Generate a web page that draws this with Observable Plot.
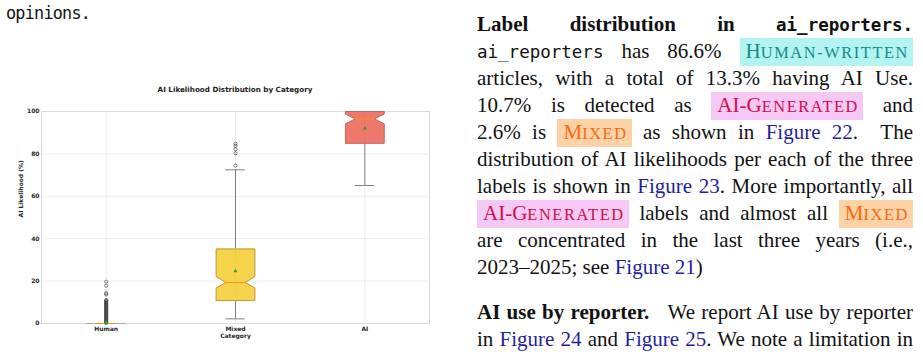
<!DOCTYPE html>
<html><head><meta charset="utf-8">
<script src="https://cdn.jsdelivr.net/npm/d3@7"></script>
<script src="https://cdn.jsdelivr.net/npm/@observablehq/plot@0.6"></script>
<style>
html,body{margin:0;padding:0;background:#fff;width:923px;height:364px;overflow:hidden;position:relative}
#left{position:absolute;left:6px;top:4px;font-family:"DejaVu Sans Mono";font-size:16.8px;line-height:19px;color:#111;letter-spacing:-0.75px}
#title{position:absolute;left:0;width:470px;top:84.5px;text-align:center;font:bold 7.2px "DejaVu Sans";color:#222}
#chart{position:absolute;left:0;top:100px}
#col{position:absolute;left:477px;top:11px;width:436px;font-family:"Liberation Serif";font-size:21px;color:#111}
.l{height:27px;line-height:27px;white-space:nowrap;text-align:justify;text-align-last:justify}
.l.last{text-align-last:left}
.p2{margin-top:17.7px}
.tt{font-family:"DejaVu Sans Mono";font-size:17.5px}
.hl{display:inline-block;padding:0 4px 0 6px;line-height:26px}
.sc{font-size:0.78em;letter-spacing:1.6px}
.hw{background:#b3f4f3;color:#178b8b}
.ag{background:#f6c8f4;color:#cc0f4e}
.mx{background:#fdd2a6;color:#f76b12}
a{color:#1f1f9c;text-decoration:none}
</style>
</head><body>
<div id="left">opinions.</div>
<div id="title">AI Likelihood Distribution by Category</div>
<div id="chart"></div>
<div id="col">
<div class="l"><b>Label distribution in <span class="tt">ai_reporters.</span></b></div>
<div class="l"><span class="tt">ai_reporters</span> has 86.6% <span class="hl hw">H<span class="sc">UMAN-WRITTEN</span></span></div>
<div class="l">articles, with a total of 13.3% having AI Use.</div>
<div class="l">10.7% is detected as <span class="hl ag">AI-G<span class="sc">ENERATED</span></span> and</div>
<div class="l">2.6% is <span class="hl mx">M<span class="sc">IXED</span></span> as shown in <a>Figure 22</a>.&nbsp; The</div>
<div class="l">distribution of AI likelihoods per each of the three</div>
<div class="l">labels is shown in <a>Figure 23</a>. More importantly, all</div>
<div class="l"><span class="hl ag">AI-G<span class="sc">ENERATED</span></span> labels and almost all <span class="hl mx">M<span class="sc">IXED</span></span></div>
<div class="l">are concentrated in the last three years (i.e.,</div>
<div class="l last">2023–2025; see <a>Figure 21</a>)</div>
<div class="l p2"><b>AI use by reporter.</b>&nbsp;&nbsp; We report AI use by reporter</div>
<div class="l">in <a>Figure 24</a> and <a>Figure 25</a>. We note a limitation in</div>
</div>
<script>
const categories = ["Human", "Mixed", "AI"];
const q1 = [0, 10.8, 85.0];
const q3 = [0, 35.2, 100];
const medians = [0, 19.3, 96.5];
const notchLow = [0, 16.8, 94.2];
const notchHigh = [0, 22.2, 98.8];
const whiskerLow = [0, 2.2, 65.1];
const whiskerHigh = [0, 72.5, 100];
const means = [0.6, 24.7, 92.1];
const boxFill = ["#2ECC71", "#F1C40F", "#E74C3C"];
const boxEdge = ["#a8a8a8", "#b39a3c", "#c0675c"];
const outlierCategory = [
  "Human","Human","Human","Human","Human","Human","Human","Human","Human","Human",
  "Human","Human","Human","Human","Human","Human","Human","Human","Human","Human",
  "Human","Human","Human","Human","Human","Human","Human","Human",
  "Human","Human","Human","Human",
  "Mixed","Mixed","Mixed","Mixed","Mixed"
];
const outlierValue = [
  0.3,0.7,1.1,1.5,1.9,2.3,2.7,3.1,3.5,3.9,
  4.3,4.7,5.1,5.5,5.9,6.3,6.7,7.1,7.5,7.9,
  8.3,8.7,9.1,9.5,9.9,10.3,10.7,11.1,
  13.7,14.3,17.8,19.7,
  74.5,80.3,82.2,83.8,84.8
];
const yTicks = [0, 20, 40, 60, 80, 100];

const idx = categories.map((_, i) => i);
const BW = 0.15, NW = BW / 2;
const boxPts = i => [
  [i - BW, q1[i]], [i + BW, q1[i]], [i + BW, notchLow[i]], [i + NW, medians[i]],
  [i + BW, notchHigh[i]], [i + BW, q3[i]], [i - BW, q3[i]], [i - BW, notchHigh[i]],
  [i - NW, medians[i]], [i - BW, notchLow[i]], [i - BW, q1[i]]
].map(([x, y]) => ({x, y}));
const outliers = outlierValue.map((v, k) => ({x: categories.indexOf(outlierCategory[k]), y: v}));

const chart = Plot.plot({
  width: 440, height: 245,
  marginLeft: 41, marginRight: 11, marginTop: 11, marginBottom: 22,
  x: {domain: [-0.5, 2.5], axis: null},
  y: {domain: [0, 100], axis: null},
  style: {fontFamily: "DejaVu Sans", fontSize: "6px", fontWeight: "bold", color: "#262626", background: "#fff", overflow: "visible"},
  marks: [
    Plot.gridY(yTicks, {stroke: "#000", strokeOpacity: 0.07}),
    Plot.gridX(idx, {stroke: "#000", strokeOpacity: 0.08}),
    Plot.frame({stroke: "#dadada"}),
    Plot.axisY(yTicks, {tickSize: 0, tickPadding: 2, label: null, fontWeight: "bold"}),
    Plot.axisX(idx, {tickSize: 0, tickPadding: 3, tickFormat: i => categories[i], label: null, fontWeight: "bold"}),
    Plot.text(["AI Likelihood (%)"], {frameAnchor: "left", dx: -20, rotate: -90, fontWeight: "bold"}),
    Plot.text(["Category"], {frameAnchor: "bottom", dy: 12.7, lineAnchor: "middle", fontWeight: "bold"}),
    Plot.ruleX(idx, {x: i => i, y1: i => q3[i], y2: i => whiskerHigh[i], stroke: "#808080", strokeWidth: 1}),
    Plot.ruleX(idx, {x: i => i, y1: i => q1[i], y2: i => whiskerLow[i], stroke: "#808080", strokeWidth: 1}),
    Plot.ruleY(idx, {y: i => whiskerHigh[i], x1: i => i - NW, x2: i => i + NW, stroke: "#808080", strokeWidth: 1}),
    Plot.ruleY(idx, {y: i => whiskerLow[i], x1: i => i - NW, x2: i => i + NW, stroke: "#808080", strokeWidth: 1}),
    ...idx.map(i => Plot.line(boxPts(i), {x: "x", y: "y", fill: boxFill[i], fillOpacity: 0.75, stroke: boxEdge[i], strokeWidth: 1, curve: "linear"})),
    Plot.ruleY(idx, {y: i => medians[i], x1: i => i - NW, x2: i => i + NW, stroke: "#ff8c1a", strokeWidth: 1}),
    Plot.dot(outliers, {x: "x", y: "y", r: 1.6, stroke: "#333", strokeWidth: 0.6, fill: "none"}),
    Plot.dot(idx, {x: i => i, y: i => means[i], symbol: "triangle", r: 1.5, fill: "#2ca02c"})
  ]
});
document.getElementById("chart").appendChild(chart);
</script>
</body></html>
